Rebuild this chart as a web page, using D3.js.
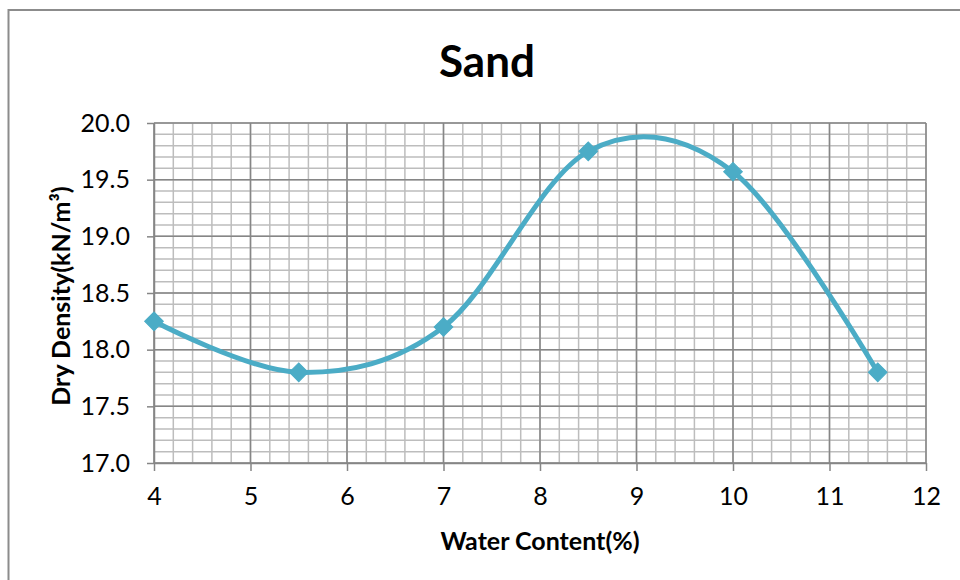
<!DOCTYPE html>
<html>
<head>
<meta charset="utf-8">
<script src="https://cdn.jsdelivr.net/npm/d3@7"></script>
<style>
  html, body { margin: 0; padding: 0; background: #ffffff; }
  svg { display: block; }
  text { font-family: "Lato", "Open Sans", "DejaVu Sans", sans-serif; fill: #000; }
</style>
</head>
<body>
<svg id="chart" width="960" height="580"></svg>
<script>
// Compaction test results for sand
const waterContent = [4, 5.5, 7, 8.5, 10, 11.5];          // %
const dryDensity   = [18.25, 17.8, 18.2, 19.75, 19.57, 17.8]; // kN/m³
const xTicks = [4, 5, 6, 7, 8, 9, 10, 11, 12];
const yTicks = [17.0, 17.5, 18.0, 18.5, 19.0, 19.5, 20.0];
const chartTitle = "Sand";
const xTitle = "Water Content(%)";
const yTitle = "Dry Density(kN/m³)";

const svg = d3.select("#chart");
const W = 960, H = 580;
const plot = { left: 154, right: 926, top: 123, bottom: 463 };

const x = d3.scaleLinear().domain([4, 12]).range([plot.left, plot.right]);
const y = d3.scaleLinear().domain([17, 20]).range([plot.bottom, plot.top]);

const majorColor = "#868686";
const minorColor = "#bdbdbd";
const seriesColor = "#4bacc6";

// Outer chart frame
svg.append("rect")
  .attr("x", 8.5).attr("y", 10)
  .attr("width", W + 20).attr("height", H + 20)
  .attr("fill", "#fff")
  .attr("stroke", "#8c8c8c").attr("stroke-width", 2);

// Minor grid: 5 subdivisions between major ticks
const xMinor = d3.range(0, 41).map(i => 4 + i * 0.2);
const yMinor = d3.range(0, 31).map(i => 17 + i * 0.1);

const grid = svg.append("g");
grid.selectAll("line.xm").data(xMinor).join("line")
  .attr("x1", d => x(d)).attr("x2", d => x(d))
  .attr("y1", plot.top).attr("y2", plot.bottom)
  .attr("stroke", minorColor).attr("stroke-width", 1.5);
grid.selectAll("line.ym").data(yMinor).join("line")
  .attr("y1", d => y(d)).attr("y2", d => y(d))
  .attr("x1", plot.left).attr("x2", plot.right)
  .attr("stroke", minorColor).attr("stroke-width", 1.5);

// Major grid
grid.selectAll("line.xM").data(xTicks).join("line")
  .attr("x1", d => x(d)).attr("x2", d => x(d))
  .attr("y1", plot.top).attr("y2", plot.bottom)
  .attr("stroke", majorColor).attr("stroke-width", 1.5);
grid.selectAll("line.yM").data(yTicks).join("line")
  .attr("y1", d => y(d)).attr("y2", d => y(d))
  .attr("x1", plot.left).attr("x2", plot.right)
  .attr("stroke", majorColor).attr("stroke-width", 1.5);

// Axes
const yAxis = d3.axisLeft(y).tickValues(yTicks).tickFormat(d3.format(".1f"))
  .tickSize(7).tickSizeOuter(0).tickPadding(17);
const xAxis = d3.axisBottom(x).tickValues(xTicks).tickFormat(d3.format("d"))
  .tickSize(8).tickSizeOuter(0).tickPadding(16);

const gy = svg.append("g").attr("transform", `translate(${plot.left},0)`).call(yAxis);
const gx = svg.append("g").attr("transform", `translate(0,${plot.bottom})`).call(xAxis);

[gx, gy].forEach(g => {
  g.select(".domain").attr("stroke", majorColor).attr("stroke-width", 1.5);
  g.selectAll(".tick line").attr("stroke", majorColor).attr("stroke-width", 1.5);
  g.selectAll(".tick text")
    .attr("fill", "#000")
    .style("font-family", '"Lato", "Open Sans", sans-serif')
    .style("font-size", "25px");
});

// Smoothed series line
const pts = waterContent.map((w, i) => [w, dryDensity[i]]);
const line = d3.line()
  .x(d => x(d[0])).y(d => y(d[1]))
  .curve(d3.curveCardinal.tension(0));

svg.append("path")
  .datum(pts)
  .attr("d", line)
  .attr("fill", "none")
  .attr("stroke", seriesColor)
  .attr("stroke-width", 5)
  .attr("stroke-linejoin", "round");

// Diamond markers (squares turned 45°)
const diamond = d3.symbol().type(d3.symbolSquare).size(175);
svg.selectAll("path.marker").data(pts).join("path")
  .attr("class", "marker")
  .attr("d", diamond)
  .attr("transform", d => `translate(${x(d[0])},${y(d[1])}) rotate(45)`)
  .attr("fill", seriesColor)
  .attr("stroke", seriesColor)
  .attr("stroke-width", 1);

// Titles
svg.append("text")
  .attr("x", 487).attr("y", 77)
  .attr("text-anchor", "middle")
  .style("font-size", "44px").style("font-weight", "bold")
  .text(chartTitle);

svg.append("text")
  .attr("x", (plot.left + plot.right) / 2).attr("y", 550)
  .attr("text-anchor", "middle")
  .style("font-size", "25px").style("font-weight", "bold")
  .text(xTitle);

svg.append("text")
  .attr("transform", `translate(70,${(plot.top + plot.bottom) / 2 + 3}) rotate(-90)`)
  .attr("text-anchor", "middle")
  .style("font-size", "25px").style("font-weight", "bold")
  .text(yTitle);
</script>
</body>
</html>
